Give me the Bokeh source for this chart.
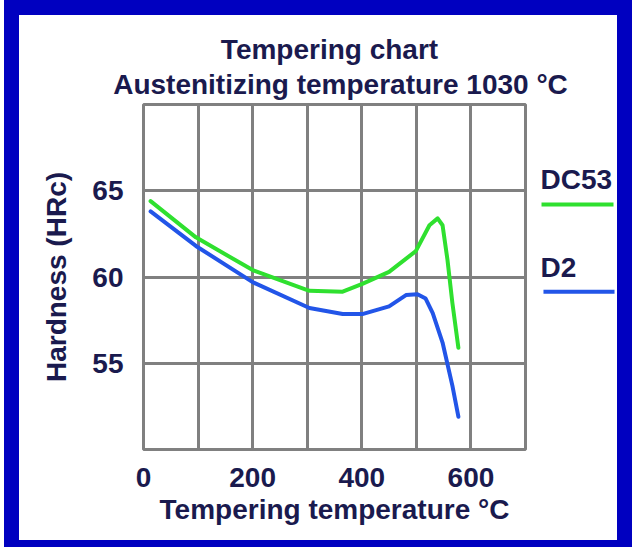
from bokeh.plotting import figure
from bokeh.models import FixedTicker, Range1d
from bokeh.layouts import row, column
from bokeh.embed import file_html
from bokeh.resources import INLINE
from bokeh.core.properties import value

# ---- data ----
dc53_temp = [13, 96, 200, 304, 365, 401, 450, 499, 524, 539, 548, 557, 566, 577]
dc53_hard = [64.4, 62.3, 60.4, 59.2, 59.15, 59.6, 60.3, 61.5, 63.0, 63.4, 63.0, 61.0, 58.5, 55.9]
d2_temp = [13, 96, 200, 304, 365, 401, 450, 481, 502, 517, 530, 548, 566, 577]
d2_hard = [63.8, 61.8, 59.7, 58.2, 57.85, 57.85, 58.3, 58.95, 59.0, 58.75, 57.9, 56.2, 53.7, 51.9]
series_names = ["DC53", "D2"]
x_ticks = [0, 200, 400, 600]
x_grid = [100, 200, 300, 400, 500, 600]
y_ticks = [55, 60, 65]

title_lines = ["Tempering chart", "Austenitizing temperature 1030 °C"]
x_label = "Tempering temperature °C"
y_label = "Hardness (HRc)"

GREEN = "#2fe02f"
BLUE = "#2255e8"
TEXT = "#1a1a4e"
GRID = "#808080"
FRAME_BLUE = "#0000c0"
FONT = "Liberation Sans"

INNER_W = 598
TITLE_H = 85
H = 440
TOP = 4
BOTTOM = 91

# ---- title strip ----
t = figure(width=INNER_W, height=TITLE_H, x_range=Range1d(0, INNER_W), y_range=Range1d(TITLE_H, 0),
           output_backend="svg", toolbar_location=None, title=None,
           min_border=0, border_fill_color="white", background_fill_color="white")
t.axis.visible = False
t.grid.visible = False
t.outline_line_color = None
t.text(x=[310, 321], y=[34, 69], text=title_lines, text_font=value(FONT),
       text_font_size="28px", text_font_style="bold", text_color=TEXT,
       text_align="center", text_baseline="alphabetic")

# ---- main chart ----
p = figure(width=513, height=H, x_range=Range1d(0, 700), y_range=Range1d(50, 70),
           output_backend="svg", toolbar_location=None, title=None,
           min_border_left=124, min_border_right=7, min_border_top=TOP, min_border_bottom=BOTTOM,
           background_fill_color="white", border_fill_color="white")

p.outline_line_color = GRID
p.outline_line_width = 3

p.xgrid.ticker = FixedTicker(ticks=x_grid)
p.ygrid.ticker = FixedTicker(ticks=y_ticks)
for g in (p.xgrid, p.ygrid):
    g.grid_line_color = GRID
    g.grid_line_width = 3
    g.grid_line_alpha = 1.0

p.xaxis.ticker = FixedTicker(ticks=x_ticks)
p.yaxis.ticker = FixedTicker(ticks=y_ticks)
for ax in (p.xaxis, p.yaxis):
    ax.axis_line_color = None
    ax.major_tick_line_color = None
    ax.minor_tick_line_color = None
    ax.major_label_text_font = FONT
    ax.major_label_text_font_size = "28px"
    ax.major_label_text_font_style = "bold"
    ax.major_label_text_color = TEXT
    ax.axis_label_text_font = FONT
    ax.axis_label_text_font_size = "28px"
    ax.axis_label_text_font_style = "bold"
    ax.axis_label_text_color = TEXT
p.xaxis.axis_label = x_label
p.yaxis.axis_label = y_label
p.xaxis.major_label_standoff = 12
p.yaxis.major_label_standoff = 14
p.xaxis.axis_label_standoff = 4
p.yaxis.axis_label_standoff = 17

p.line(dc53_temp, dc53_hard, line_color=GREEN, line_width=4, line_join="round", line_cap="round")
p.line(d2_temp, d2_hard, line_color=BLUE, line_width=4, line_join="round", line_cap="round")

# ---- side key (label above a line sample) ----
q = figure(width=INNER_W - 513, height=H, x_range=Range1d(0, 1), y_range=Range1d(50, 70),
           output_backend="svg", toolbar_location=None, title=None,
           min_border_left=0, min_border_right=0, min_border_top=TOP, min_border_bottom=BOTTOM,
           border_fill_color="white", background_fill_color="white")
q.axis.visible = False
q.grid.visible = False
q.outline_line_color = None

key_text_y = [65.65, 60.55]
key_line_y = [64.2, 59.15]
key_colors = [GREEN, BLUE]
q.text(x=[0.094, 0.094], y=key_text_y, text=series_names, text_font=value(FONT),
       text_font_size="28px", text_font_style="bold", text_color=TEXT,
       text_baseline="middle", text_align="left")
q.segment(x0=[0.106, 0.129], y0=key_line_y, x1=[0.953, 0.965], y1=key_line_y,
          line_color=key_colors, line_width=4)

inner = column(t, row(p, q, spacing=0), spacing=0, styles={"background-color": "white"})
framed = column(inner, styles={"background-color": FRAME_BLUE, "padding": "15px 15px 7px 15px"})
layout = column(framed, styles={"background-color": "white", "padding-left": "4px"})

open("out.html", "w").write(file_html(layout, INLINE))
